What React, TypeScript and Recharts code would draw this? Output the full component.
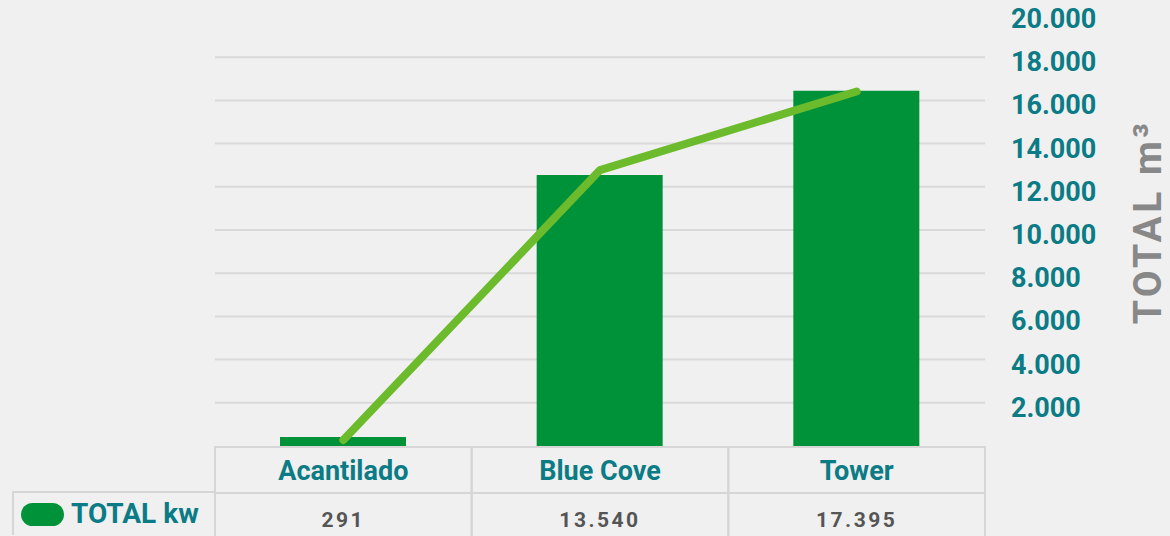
import { Bar, CartesianGrid, ComposedChart, Legend, Line, XAxis, YAxis } from "recharts";

const categories = ["Acantilado", "Blue Cove", "Tower"];
const totalM3 = [420, 12550, 16450];
const totalKw = [291, 13540, 17395];
const yTicks = [2000, 4000, 6000, 8000, 10000, 12000, 14000, 16000, 18000, 20000];
const gridValues = [2000, 4000, 6000, 8000, 10000, 12000, 14000, 16000, 18000];

const data = categories.map((name, i) => ({ name, m3: totalM3[i], kw: totalKw[i] }));

const W = 1170;
const H = 536;
const PLOT_LEFT = 215;
const AXIS_W = 185;
const BAND = (W - PLOT_LEFT - AXIS_W) / categories.length;

const TEAL = "#0b7b85";
const BORDER = "#d6d6d6";
const FONT = "Roboto, 'DejaVu Sans', sans-serif";

const fmt = (v: number) => String(v).replace(/\B(?=(\d{3})+(?!\d))/g, ".");

function RightTick(props: any) {
  const { x, y, payload } = props;
  return (
    <text x={x} y={y} dy={14} fill={TEAL} fontSize={27} fontWeight={700} fontFamily={FONT} textAnchor="start">
      {fmt(payload.value)}
    </text>
  );
}

function TableTick(props: any) {
  const { x, y, payload } = props;
  const half = BAND / 2;
  const i = payload.index;
  return (
    <g>
      <line x1={x - half} x2={x + half} y1={y + 1} y2={y + 1} stroke={BORDER} strokeWidth={2} />
      <line x1={x - half} x2={x + half} y1={y + 47} y2={y + 47} stroke={BORDER} strokeWidth={2} />
      <line x1={x - half} x2={x - half} y1={y} y2={H} stroke={BORDER} strokeWidth={2} />
      <line x1={x + half} x2={x + half} y1={y} y2={H} stroke={BORDER} strokeWidth={2} />
      <text x={x} y={y + 34} textAnchor="middle" fill={TEAL} fontSize={27} fontWeight={700} fontFamily={FONT}>
        {payload.value}
      </text>
      <text x={x} y={y + 81} textAnchor="middle" fill="#555555" fontSize={21} fontWeight={700} letterSpacing={2.5} fontFamily={FONT}>
        {fmt(totalKw[i])}
      </text>
    </g>
  );
}

function AxisTitle(props: any) {
  const vb = props.viewBox;
  const cx = vb.x + 163;
  const cy = vb.y + vb.height / 2 - 8;
  return (
    <text
      x={cx}
      y={cy}
      transform={`rotate(-90, ${cx}, ${cy})`}
      textAnchor="middle"
      dominantBaseline="central"
      fill="#888888"
      fontSize={39}
      fontWeight={700}
      letterSpacing={3.5}
      fontFamily={FONT}
    >
      TOTAL m³
    </text>
  );
}

function LegendCell() {
  return (
    <div
      style={{
        boxSizing: "border-box",
        width: 204,
        height: 44,
        borderTop: `2px solid ${BORDER}`,
        borderLeft: `2px solid ${BORDER}`,
        display: "flex",
        alignItems: "center",
        paddingLeft: 7,
        fontFamily: FONT,
      }}
    >
      <span style={{ width: 43, height: 23, borderRadius: 12, background: "#009239", display: "inline-block" }} />
      <span style={{ color: TEAL, fontSize: 28, fontWeight: 700, marginLeft: 7, lineHeight: 1 }}>TOTAL kw</span>
    </div>
  );
}

export default function App() {
  return (
    <div style={{ position: "absolute", left: 0, top: 0, width: W, height: H, background: "#f0f0f0", overflow: "hidden" }}>
      <ComposedChart width={W} height={H} data={data} margin={{ top: 14, right: 0, bottom: 0, left: PLOT_LEFT }}>
        <CartesianGrid yAxisId="m3" vertical={false} horizontalValues={gridValues} stroke="#d9d9d9" strokeWidth={2} />
        <XAxis
          dataKey="name"
          height={90}
          axisLine={false}
          tickLine={false}
          tickSize={0}
          tickMargin={0}
          interval={0}
          tick={<TableTick />}
        />
        <YAxis
          yAxisId="m3"
          orientation="right"
          width={AXIS_W}
          domain={[0, 20000]}
          ticks={yTicks}
          axisLine={false}
          tickLine={false}
          tickSize={0}
          tickMargin={26}
          tick={<RightTick />}
          label={<AxisTitle />}
        />
        <YAxis yAxisId="kw" hide domain={[0, 21200]} />
        <Legend
          layout="horizontal"
          align="center"
          verticalAlign="middle"
          wrapperStyle={{ left: 12, top: 491, width: 204, height: 44 }}
          content={<LegendCell />}
        />
        <Bar yAxisId="m3" dataKey="m3" fill="#009239" barSize={126} isAnimationActive={false} />
        <Line
          yAxisId="kw"
          dataKey="kw"
          type="linear"
          stroke="#6cbb2d"
          strokeWidth={8}
          strokeLinecap="round"
          strokeLinejoin="round"
          dot={false}
          activeDot={false}
          isAnimationActive={false}
        />
      </ComposedChart>
    </div>
  );
}
